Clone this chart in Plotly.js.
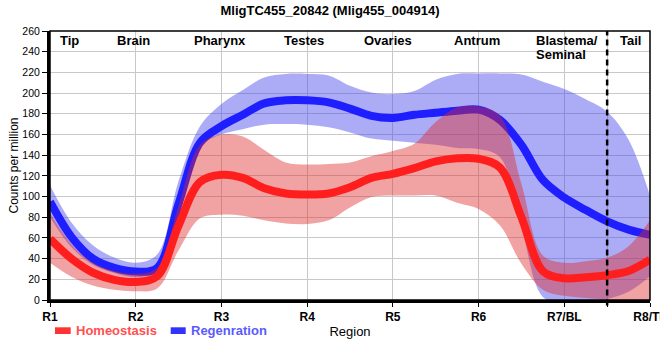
<!DOCTYPE html>
<html>
<head>
<meta charset="utf-8">
<script src="https://cdn.plot.ly/plotly-3.0.1.min.js"></script>
<style>html,body{margin:0;padding:0;background:#fff;}#chart{width:660px;height:360px;}</style>
</head>
<body>
<div id="chart"></div>
<script>
// Sample positions along the region axis (R1 = 0 ... R8 = 7)
const xPos = [0,0.25,0.5,0.75,1,1.25,1.5,1.75,2,2.25,2.5,2.75,3,3.25,3.5,3.75,4,4.25,4.5,4.75,5,5.25,5.5,5.75,6,6.25,6.5,6.75,7];

const tickPositions = [0,1,2,3,4,5,6,6.5,7];
const tickLabels = ['R1','R2','R3','R4','R5','R6','R7/BL','','R8/TL'];

// Homeostasis (red)
const homeoMean  = [59,40,26.5,19.5,17.5,23,72,114,121,118,108,103,102,103,109,118,122,127.5,134,137,136.5,128,80,28,21,22,24,28,39];
const homeoUpper = [84,54,36,28,25.5,31,91,150,160,158,145,133,131,131.5,133,139,144,151,172,186,187,178,112,43,36,37.5,41,52,77];
const homeoLower = [36,22.5,14,9.8,8.5,11,48,79,82.5,81.5,77,74,73.5,77,89.5,99.5,101,101,101,94,88,72,35,10,4,2,0,-8,-20];

// Regeneration (blue)
const regenMean  = [95,61,40,31,27.5,31,93,152,168,179,190,193,193,191,185,178,176,179,181,183,184,174,150,116,99,87,76,68,63];
const regenUpper = [111,75,53,41,36,44,115,168,189.5,203,215,218.5,218.5,217,207,200.5,199,202,213,218.5,219,219,218,211,204,194,182,155,101];
const regenLower = [80,51,34,26,22,28,80,148,160,165,169.5,170,169.5,167,162,156,154,152,150,147,146,138,70,3,-3,-3,1,8,23];

// Region labels along the top
const regionNames = ['Tip','Brain','Pharynx','Testes','Ovaries','Antrum','Tail'];
const regionX     = [0.23,0.97,1.98,2.96,3.94,4.98,6.777];
const blastemaLines = ['Blastema/','Seminal'];
const blastemaX = 5.651;
const dividerX = 6.5;

const seriesNames = ['Homeostasis','Regenration'];

const FONT = 'Liberation Sans, Arial, sans-serif';

function band(lower, upper, fill){
  return [
    {x:xPos, y:lower, type:'scatter', mode:'lines', line:{width:0, shape:'spline', smoothing:1}, hoverinfo:'skip', showlegend:false},
    {x:xPos, y:upper, type:'scatter', mode:'lines', fill:'tonexty', fillcolor:fill, line:{width:0, shape:'spline', smoothing:1}, hoverinfo:'skip', showlegend:false}
  ];
}

const traces = [
  ...band(regenLower, regenUpper, 'rgba(70,70,235,0.45)'),
  {x:xPos, y:regenMean, type:'scatter', mode:'lines', name:seriesNames[1], line:{color:'rgb(30,30,255)', width:8, shape:'spline', smoothing:1}, showlegend:false},
  ...band(homeoLower, homeoUpper, 'rgba(222,40,40,0.43)'),
  {x:xPos, y:homeoMean, type:'scatter', mode:'lines', name:seriesNames[0], line:{color:'rgb(255,30,30)', width:8, shape:'spline', smoothing:1}, showlegend:false}
];

const annotations = [];
regionNames.forEach((n,i)=>{
  annotations.push({x:regionX[i], y:250.8, xref:'x', yref:'y', text:n, showarrow:false, xanchor:'center', yanchor:'middle',
    font:{family:FONT, size:13, weight:'bold', color:'#000'}});
});
blastemaLines.forEach((n,i)=>{
  annotations.push({x:blastemaX, y:250.8 - i*14/1.034, xref:'x', yref:'y', text:n, showarrow:false, xanchor:'left', yanchor:'middle',
    font:{family:FONT, size:13, weight:'bold', color:'#000'}});
});
// legend text
annotations.push({x:24/600, y:-30.7/269, xref:'paper', yref:'paper', text:seriesNames[0], showarrow:false, xanchor:'left', yanchor:'middle',
  font:{family:FONT, size:13, weight:'bold', color:'#ff5050'}});
annotations.push({x:139.3/600, y:-30.7/269, xref:'paper', yref:'paper', text:seriesNames[1], showarrow:false, xanchor:'left', yanchor:'middle',
  font:{family:FONT, size:13, weight:'bold', color:'#5a5aff'}});

const shapes = [
  {type:'line', xref:'x', yref:'paper', x0:dividerX, x1:dividerX, y0:-0.02, y1:1, line:{color:'#000', width:2.5, dash:'6px,4px'}, layer:'above'},
  {type:'rect', xref:'paper', yref:'paper', x0:0, x1:1, y0:0, y1:1, line:{color:'#000', width:1.5}, fillcolor:'rgba(0,0,0,0)', layer:'above'},
  {type:'rect', xref:'paper', yref:'paper', x0:5/600, x1:20.7/600, y0:-34/269, y1:-27.3/269, line:{width:0}, fillcolor:'#ff3333'},
  {type:'rect', xref:'paper', yref:'paper', x0:120.7/600, x1:135.7/600, y0:-34/269, y1:-27.3/269, line:{width:0}, fillcolor:'#3333ff'}
];

const layout = {
  width:660, height:360,
  margin:{l:50, r:10, t:31, b:60},
  paper_bgcolor:'#fff', plot_bgcolor:'#fff',
  showlegend:false,
  font:{family:FONT, color:'#000'},
  title:{text:'MligTC455_20842 (Mlig455_004914)', x:0.5, xanchor:'center', y:1-10.5/360, yanchor:'middle', yref:'container',
    font:{family:FONT, size:13, weight:'bold', color:'#000'}},
  xaxis:{range:[0,7], tickmode:'array', tickvals:tickPositions, ticktext:tickLabels,
    showgrid:true, gridcolor:'#c8c8c8', gridwidth:1, zeroline:false,
    showline:true, linecolor:'#000', linewidth:3, ticks:'outside', ticklen:4, tickcolor:'#000', tickwidth:1,
    ticklabeloverflow:'allow',
    tickfont:{family:FONT, size:12, weight:'bold', color:'#000'},
    title:{text:'Region', font:{family:FONT, size:13, color:'#000'}, standoff:4}},
  yaxis:{range:[0,260], tickmode:'linear', tick0:0, dtick:20,
    showgrid:true, gridcolor:'#c8c8c8', gridwidth:1, zeroline:false,
    showline:true, linecolor:'#000', linewidth:3, ticks:'outside', ticklen:5, tickcolor:'#000', tickwidth:1,
    tickfont:{family:FONT, size:10.5, color:'#000'},
    title:{text:'Counts per million', font:{family:FONT, size:12, color:'#000'}, standoff:2}},
  annotations:annotations,
  shapes:shapes
};

Plotly.newPlot('chart', traces, layout, {staticPlot:true, displayModeBar:false});
</script>
</body>
</html>
